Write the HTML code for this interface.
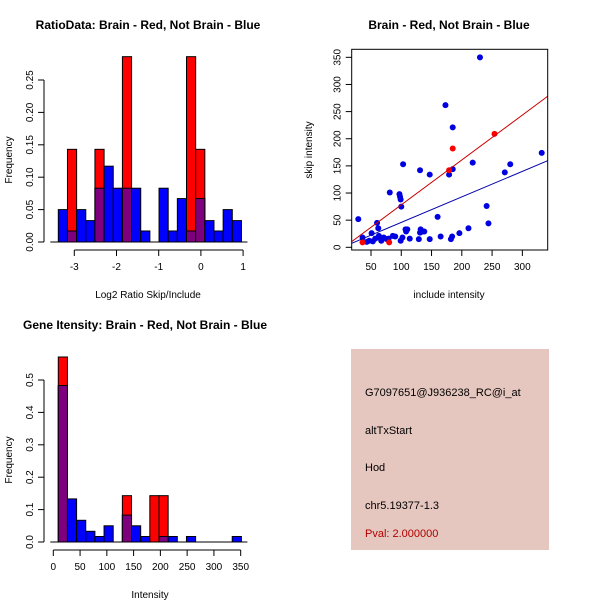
<!DOCTYPE html>
<html><head><meta charset="utf-8">
<style>
body{margin:0;background:#fff;}
svg{display:block;font-family:"Liberation Sans",sans-serif;}
.t{font-weight:bold;font-size:12px;}
.l{font-size:10px;}
.k{font-size:11px;}
</style></head>
<body>
<svg id="s" width="600" height="600" viewBox="0 0 600 600">
<rect x="351" y="349" width="198" height="201" fill="#e6c7bf"/>
<text x="365" y="396" class="k">G7097651@J936238_RC@i_at</text>
<text x="365" y="434" class="k">altTxStart</text>
<text x="365" y="471" class="k">Hod</text>
<text x="365" y="509" class="k">chr5.19377-1.3</text>
<text x="365" y="537" class="k" fill="#b00000">Pval: 2.000000</text>
</svg>
<script>
// Histogram 1 data
const h1Start = -3.379, h1Width = 0.217;
const h1Blue = [0.05,0.017,0.05,0.033,0.083,0.117,0.083,0.083,0.083,0.017,0,0.083,0.017,0.067,0.017,0.067,0.033,0.017,0.05,0.033];
const h1Red  = [0,0.143,0,0,0.143,0,0,0.286,0,0,0,0,0,0,0.286,0.143,0,0,0,0];
const h1XTicks = [-3,-2,-1,0,1];
const h1YTicks = ["0.00","0.05","0.10","0.15","0.20","0.25"];
// Histogram 2 data
const h2Start = 9.3, h2Width = 17.1;
const h2Blue = [0.483,0.133,0.067,0.033,0.017,0.05,0,0.083,0.05,0.017,0,0.017,0.017,0,0.017,0,0,0,0,0.017];
const h2Red  = [0.571,0,0,0,0,0,0,0.143,0,0,0.143,0.143,0,0,0,0,0,0,0,0];
const h2XTicks = [0,50,100,150,200,250,300,350];
const h2YTicks = ["0.0","0.1","0.2","0.3","0.4","0.5"];
// Scatter data
const blueX = [29,36,43,47,51,53,57,60,62,63,66,67,71,76,79,86,81,90,97,98,99,100,99,102,103,107,110,108,114,129,131,132,135,138,131,147,147,160,165,173,179,182,184,185,185,196,211,218,241,244,271,280,332,230];
const blueY = [52,18,10,12,26,11,16,45,35,21,16,12,18,15,16,21,101,20,98,93,88,75,12,18,153,33,33,29,16,15,27,33,29,29,142,134,15,56,20,262,134,15,20,221,144,26,35,156,76,44,138,153,174,350];
const redX = [36,80,179,185,254];
const redY = [9,9,142,182,209];
const redFit = [-4.5,0.827];
const blueFit = [-1.1,0.47];
const scXTicks = [50,100,150,200,250,300];
const scYTicks = [0,50,100,150,200,250,300,350];

const svg = document.getElementById('s');
const NS = 'http://www.w3.org/2000/svg';
function mk(tag, attrs, parent){const e=document.createElementNS(NS,tag);for(const k in attrs)e.setAttribute(k,attrs[k]);(parent||svg).appendChild(e);return e;}
function txt(x,y,s,cls,rot,anchor){const e=mk('text',{x:x,y:y,'class':cls,'text-anchor':anchor||'middle'});if(rot)e.setAttribute('transform','rotate(-90 '+x+' '+y+')');e.textContent=s;return e;}

function hist(cfg){
  const g=mk('g',{});
  
  
  const xs=v=>cfg.x0px+(v-cfg.x0)*cfg.xpx;
  const ys=v=>cfg.y0px-v*cfg.ypx;
  for(let i=0;i<cfg.blue.length;i++){
    const a=xs(cfg.start+i*cfg.w), b=xs(cfg.start+(i+1)*cfg.w);
    const bv=cfg.blue[i], rv=cfg.red[i], m=Math.min(bv,rv);
    if(bv>0){const r=mk('rect',{x:a,y:ys(bv),width:b-a,height:ys(0)-ys(bv),fill:'#0000ff',stroke:'#000','stroke-width':1},g);
      }
    if(rv>0){const r=mk('rect',{x:a,y:ys(rv),width:b-a,height:ys(0)-ys(rv),fill:'#ff0000',stroke:'#000','stroke-width':1},g);
      }
    if(m>0){const r=mk('rect',{x:a,y:ys(m),width:b-a,height:ys(0)-ys(m),fill:'#7f007f',stroke:'#000','stroke-width':1},g);
      }
  }
  mk('line',{x1:xs(cfg.start)-8,x2:xs(cfg.start+cfg.blue.length*cfg.w)+6,y1:ys(0),y2:ys(0),stroke:'#000'},g);
  // axes
  const xa=mk('g',{},g);
  mk('line',{x1:xs(cfg.xt[0]),x2:xs(cfg.xt[cfg.xt.length-1]),y1:cfg.xaxY,y2:cfg.xaxY,stroke:'#000'},xa);
  cfg.xt.forEach(v=>{mk('line',{x1:xs(v),x2:xs(v),y1:cfg.xaxY,y2:cfg.xaxY+6,stroke:'#000'},xa);txt(xs(v),cfg.xaxY+20,String(v),'l',false);});
  const ya=mk('g',{},g);
  const yv=cfg.yt.map(Number);
  mk('line',{x1:cfg.yaxX,x2:cfg.yaxX,y1:ys(yv[0]),y2:ys(yv[yv.length-1]),stroke:'#000'},ya);
  cfg.yt.forEach(s=>{const v=Number(s);mk('line',{x1:cfg.yaxX-6,x2:cfg.yaxX,y1:ys(v),y2:ys(v),stroke:'#000'},ya);txt(cfg.yaxX-11,ys(v),s,'l',true);});
}
hist({name:'ratio-histogram',start:h1Start,w:h1Width,blue:h1Blue,red:h1Red,x0:-3,x0px:74.3,xpx:42.2,y0px:242,ypx:648,xt:h1XTicks,yt:h1YTicks,xaxY:250,yaxX:44});
hist({name:'intensity-histogram',start:h2Start,w:h2Width,blue:h2Blue,red:h2Red,x0:0,x0px:53.3,xpx:0.5354,y0px:542,ypx:324,xt:h2XTicks,yt:h2YTicks,xaxY:550,yaxX:44});

// scatter
const sg=mk('g',{});


const L=351.7,R=547.7,T=49.3,B=250;
const sx=v=>371+(v-50)*30.27/50;
const sy=v=>247.3-v*27.14/50;
const sxInv=p=>50+(p-371)*50/30.27;
const cp=mk('clipPath',{id:'cp'},sg);mk('rect',{x:L,y:T,width:R-L,height:B-T},cp);
blueX.forEach((v,i)=>{const c=mk('circle',{cx:sx(v),cy:sy(blueY[i]),r:3,fill:'#0000e0'},sg);
  });
redX.forEach((v,i)=>{const c=mk('circle',{cx:sx(v),cy:sy(redY[i]),r:3,fill:'#ff0000'},sg);
  });
[[redFit,'#cc0000','red-fit-line'],[blueFit,'#0000aa','blue-fit-line']].forEach(([f,col,nm])=>{
  const a=sxInv(L),b=sxInv(R);
  const ln=mk('line',{x1:L,x2:R,y1:sy(f[0]+f[1]*a),y2:sy(f[0]+f[1]*b),stroke:col,'clip-path':'url(#cp)'},sg);
  });
mk('rect',{x:L,y:T,width:R-L,height:B-T,fill:'none',stroke:'#000'},sg);
scXTicks.forEach(v=>{mk('line',{x1:sx(v),x2:sx(v),y1:B,y2:B+6,stroke:'#000'},sg);txt(sx(v),B+20,String(v),'l');});
scYTicks.forEach(v=>{mk('line',{x1:L-6,x2:L,y1:sy(v),y2:sy(v),stroke:'#000'},sg);txt(L-11,sy(v),String(v),'l',true);});

// titles and labels
let e;
e=txt(148,29,'RatioData: Brain - Red, Not Brain - Blue','t');
e=txt(148,298,'Log2 Ratio Skip/Include','l');
e=txt(12,160,'Frequency','l',true);
e=txt(449,29,'Brain - Red, Not Brain - Blue','t');
e=txt(449,298,'include intensity','l');
e=txt(312,150,'skip intensity','l',true);
e=txt(145,329,'Gene Itensity: Brain - Red, Not Brain - Blue','t');
e=txt(150,598,'Intensity','l');
e=txt(12,460,'Frequency','l',true);
</script>
</body></html>
